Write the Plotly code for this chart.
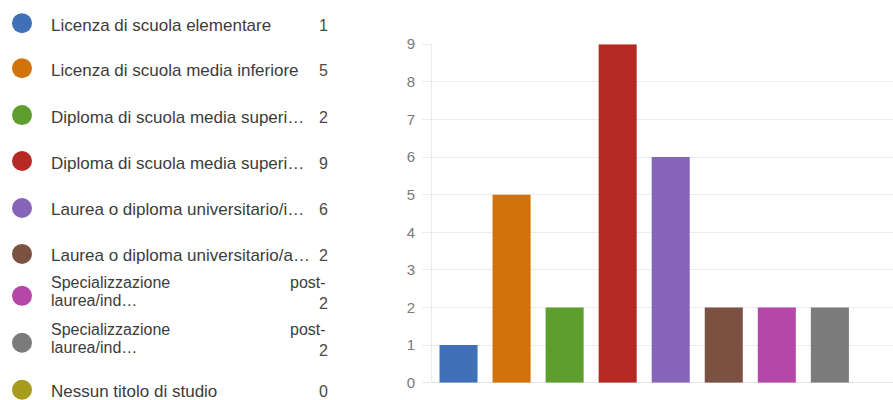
import plotly.graph_objects as go

# ---- data ----
categories = [
    "Licenza di scuola elementare",
    "Licenza di scuola media inferiore",
    "Diploma di scuola media superi…",
    "Diploma di scuola media superi… ",
    "Laurea o diploma universitario/i…",
    "Laurea o diploma universitario/a…",
    "Specializzazione post-laurea/ind…",
    "Specializzazione post-laurea/ind… ",
    "Nessun titolo di studio",
]
values = [1, 5, 2, 9, 6, 2, 2, 2, 0]
colors = ["#3f70b8", "#d2720a", "#5d9e2e", "#b42a22", "#8665b8",
          "#7b5142", "#b447a8", "#7b7b7b", "#a59b1f"]
y_ticks = [0, 1, 2, 3, 4, 5, 6, 7, 8, 9]

# ---- layout helpers (pixel geometry) ----
W, H = 893, 400
# the captured picture shows the page slightly squeezed vertically;
# convert wanted on-picture y pixels into figure pixels
Y_OFF, Y_SCALE = 8.8, 0.9587


def fy(p):
    return (p - Y_OFF) / Y_SCALE


row_y = [23, 68, 115, 161, 208, 254, 296, 343, 390]
wrapped = [False, False, False, False, False, False, True, True, False]
circle_x = 22
text_x = 49
value_x = 330
label_font = dict(family="Liberation Sans, Arial, sans-serif", size=17, color="#3c3c3c")
wrap_font = dict(family="Liberation Sans, Arial, sans-serif", size=16, color="#3c3c3c")
value_font = dict(family="Liberation Sans, Arial, sans-serif", size=16, color="#4a4a4a")

plot_top, plot_bottom = 44, 383

fig = go.Figure()

# bars
fig.add_trace(go.Bar(
    x=categories, y=values,
    marker=dict(color=colors, line=dict(width=0)),
    xaxis="x", yaxis="y", showlegend=False, hoverinfo="x+y",
))

# legend circles on hidden pixel axes
fig.add_trace(go.Scatter(
    x=[circle_x] * len(categories), y=[fy(v) for v in row_y],
    mode="markers",
    marker=dict(color=colors, size=20, line=dict(width=0)),
    xaxis="x2", yaxis="y2", showlegend=False, hoverinfo="skip",
    cliponaxis=False,
))

annotations = []
for lab, val, yy, wr in zip(categories, values, row_y, wrapped):
    lab = lab.strip()
    if wr:
        first, rest = lab.split(" ", 1)
        head, tail = rest.split("-", 1)
        annotations.append(dict(x=text_x, y=fy(yy - 13), text=first, xanchor="left",
                                yanchor="middle", font=wrap_font))
        annotations.append(dict(x=value_x - 2, y=fy(yy - 13), text=head + "-", xanchor="right",
                                yanchor="middle", font=wrap_font))
        annotations.append(dict(x=text_x, y=fy(yy + 5), text=tail, xanchor="left",
                                yanchor="middle", font=wrap_font))
        annotations.append(dict(x=value_x, y=fy(yy + 8), text=str(val), xanchor="right",
                                yanchor="middle", font=value_font))
    else:
        annotations.append(dict(x=text_x, y=fy(yy + 2), text=lab, xanchor="left",
                                yanchor="middle", font=label_font))
        annotations.append(dict(x=value_x, y=fy(yy + 2), text=str(val), xanchor="right",
                                yanchor="middle", font=value_font))
for a in annotations:
    a.update(xref="x2", yref="y2", showarrow=False)

grid = "#ebebeb"
fig.update_layout(
    width=W, height=H,
    margin=dict(l=0, r=0, t=0, b=0),
    paper_bgcolor="white", plot_bgcolor="rgba(0,0,0,0)",
    bargap=0.283,
    xaxis=dict(domain=[432 / W, 1], range=[-0.5, 8.19], showticklabels=False,
               showgrid=False, zeroline=False, showline=False, ticks="",
               anchor="y", fixedrange=True),
    yaxis=dict(domain=[1 - fy(plot_bottom) / H, 1 - fy(plot_top) / H], range=[0, 9],
               tickvals=y_ticks,
               showgrid=True, gridcolor=grid, gridwidth=1,
               zeroline=True, zerolinecolor="#e2e2e2", zerolinewidth=1,
               showline=True, linecolor=grid, linewidth=1,
               ticks="outside", ticklen=9, tickcolor=grid, tickwidth=1,
               ticklabelstandoff=4,
               tickfont=dict(family="Liberation Sans, Arial, sans-serif", size=15, color="#7a7a7a"),
               anchor="x", fixedrange=True),
    xaxis2=dict(domain=[0, 0.4], range=[0, 0.4 * W], visible=False, anchor="y2", fixedrange=True),
    yaxis2=dict(domain=[0, 1], range=[H, 0], visible=False, anchor="x2", fixedrange=True),
    annotations=annotations,
)

fig.write_html("out.html")
